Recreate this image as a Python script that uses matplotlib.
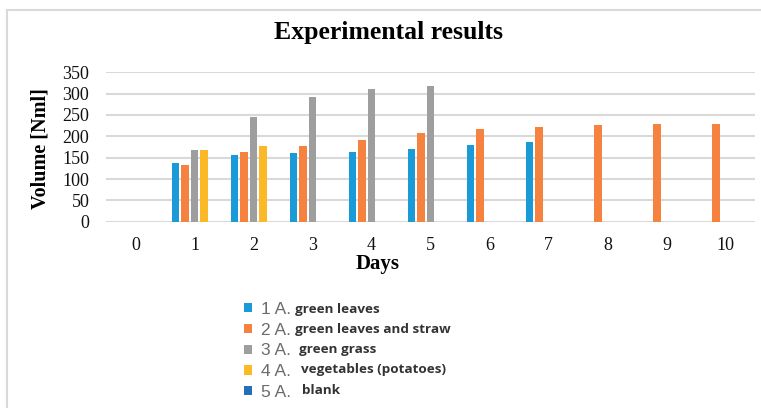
import numpy as np
import matplotlib
matplotlib.use("Agg")
import matplotlib.pyplot as plt
from matplotlib.lines import Line2D

days = [0, 1, 2, 3, 4, 5, 6, 7, 8, 9, 10]
green_leaves = [0, 137, 156, 161, 163, 170, 179, 186, 0, 0, 0]
leaves_straw = [0, 133, 163, 177, 191, 207, 216, 223, 226, 228, 228]
green_grass = [0, 168, 245, 292, 310, 317, 0, 0, 0, 0, 0]
vegetables = [0, 168, 177, 0, 0, 0, 0, 0, 0, 0, 0]
blank = [0, 0, 0, 0, 0, 0, 0, 0, 0, 0, 0]

series = [green_leaves, leaves_straw, green_grass, vegetables, blank]
short_labels = ["1 A.", "2 A.", "3 A.", "4 A.", "5 A."]
long_labels = ["green leaves", "green leaves and straw", "green grass",
               "vegetables (potatoes)", "blank"]
colors = ["#1A9BD7", "#F5823F", "#9E9E9E", "#FBB827", "#2270BA"]

W, H = 761, 408
fig = plt.figure(figsize=(W / 100, H / 100), dpi=100)
ax = fig.add_axes([106 / W, 1 - 221.7 / H, 649 / W, 149.4 / H])

x = np.arange(len(days))
step = 0.161
width = 0.124
handles = []
for i, (vals, c) in enumerate(zip(series, colors)):
    b = ax.bar(x + (i - 2) * step, vals, width=width, color=c, linewidth=0, zorder=3)
    handles.append(b)

ax.set_xlim(-0.5, 10.5)
ax.set_ylim(0, 350)
ax.set_yticks(range(0, 351, 50))
ax.set_xticks(x)
ax.set_xticklabels([str(d) for d in days])
ax.yaxis.grid(True, color="#D9D9D9", linewidth=1.5, zorder=0)
ax.set_axisbelow(True)
for s in ax.spines.values():
    s.set_visible(False)
ax.tick_params(length=0, labelsize=13, labelcolor="#111111")
ax.tick_params(axis="x", pad=11)
ax.tick_params(axis="y", pad=12)
for lab in ax.get_xticklabels() + ax.get_yticklabels():
    lab.set_fontfamily("Liberation Serif")

fig.text(388 / W, 1 - 33 / H, "Experimental results", ha="center", va="center",
         fontsize=18.5, fontweight="bold", family="Liberation Serif")
fig.text(40 / W, 1 - 149 / H, "Volume [Nml]", ha="center", va="center", rotation=90,
         fontsize=14.5, fontweight="bold", family="Liberation Serif")
fig.text(378 / W, 1 - 264 / H, "Days", ha="center", va="center",
         fontsize=15, fontweight="bold", family="Liberation Serif")

# legend: short number labels from the legend, descriptions next to them
leg = fig.legend(handles, short_labels, loc="upper left",
                 bbox_to_anchor=(244 / W, 1 - 302 / H), frameon=False,
                 borderpad=0, borderaxespad=0, handlelength=0.45, handleheight=0.45,
                 handletextpad=0.55, labelspacing=0.33,
                 prop={"family": "Liberation Sans", "size": 12.5})
for t in leg.get_texts():
    t.set_color("#6B6B6B")
desc_x = [295, 295, 299, 301, 302]
row_y = [309, 329, 349.5, 370, 390.5]
for xx, yy, txt in zip(desc_x, row_y, long_labels):
    fig.text(xx / W, 1 - yy / H, txt, ha="left", va="center", fontsize=9.7,
             fontweight="bold", family="Open Sans", color="#333333")

# chart frame
fig.add_artist(Line2D([7 / W, 1], [1 - 10 / H, 1 - 10 / H], color="#D9D9D9", linewidth=1.5))
fig.add_artist(Line2D([7 / W, 7 / W], [0, 1 - 10 / H], color="#D9D9D9", linewidth=1.5))

fig.savefig("out.png", dpi=100)
